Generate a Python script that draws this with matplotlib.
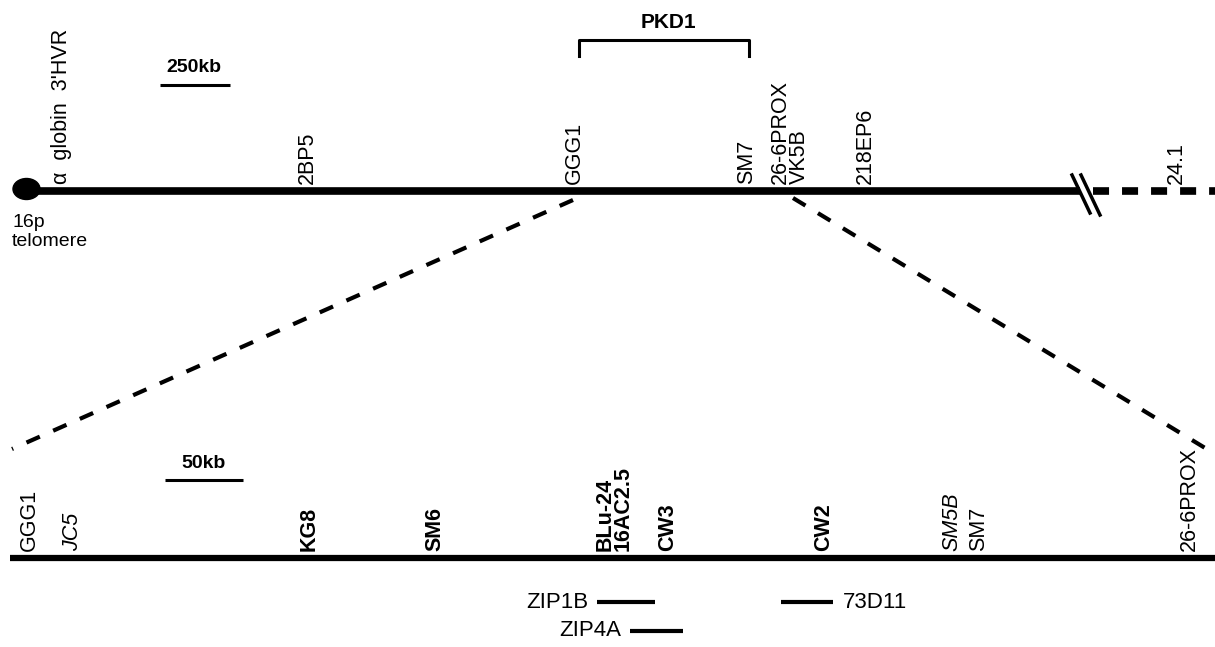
import matplotlib.pyplot as plt
from matplotlib.patches import Ellipse

plt.rcParams['font.family'] = ['Liberation Sans', 'DejaVu Sans']

# top map (250kb scale): marker names and positions along the line
top_names = ["α  globin  3'HVR", "2BP5", "GGG1", "SM7", "26-6PROX", "VK5B", "218EP6", "24.1"]
top_pos = [62, 307, 574, 747, 780, 799, 865, 1176]

# PKD1 interval on the top map
pkd1_span = [579, 749]

# expanded map (50kb scale)
bot_names = ["GGG1", "JC5", "KG8", "SM6", "BLu-24\n16AC2.5", "CW3", "CW2", "SM5B", "SM7", "26-6PROX"]
bot_pos = [29, 73, 309, 435, 614, 668, 824, 952, 979, 1189]
bot_weight = ["normal", "normal", "bold", "bold", "bold", "bold", "bold", "normal", "normal", "normal"]
bot_style = ["normal", "italic", "normal", "normal", "normal", "normal", "normal", "italic", "normal", "normal"]

# clones below the expanded map
clone_names = ["ZIP1B", "ZIP4A", "73D11"]
clone_start = [597, 630, 781]
clone_end = [655, 683, 833]
clone_row = [0, 1, 0]

fig = plt.figure(figsize=(12.15, 6.47), dpi=100)
ax = fig.add_axes([0, 0, 1, 1])
ax.set_xlim(0, 1215)
ax.set_ylim(647, 0)
ax.axis('off')

y_top = 191
y_bot = 558

# top chromosome line with telomere and break
ax.plot([27, 1080], [y_top, y_top], color='black', lw=5.5, solid_capstyle='butt')
ax.add_patch(Ellipse((26.5, 189), 27, 21, color='black'))
ax.plot([1072, 1090], [175, 213], color='black', lw=2.5)
ax.plot([1081, 1100], [175, 215], color='black', lw=2.5)
ax.plot([1093, 1215], [y_top, y_top], color='black', lw=5.5,
        linestyle=(0, (2.1, 1.7)), dash_capstyle='butt')

for name, x in zip(top_names, top_pos):
    ax.text(x, 184, name, rotation=90, ha='center', va='bottom', fontsize=15.5)

ax.text(12, 232, "16p\ntelomere", ha='left', va='center', fontsize=14,
        linespacing=1.15)

# PKD1 bracket
ax.plot([pkd1_span[0], pkd1_span[0], pkd1_span[1], pkd1_span[1]], [56, 40, 40, 56],
        color='black', lw=2.2)
ax.text(sum(pkd1_span) / 2 + 4, 22, "PKD1", ha='center', va='center', fontsize=15,
        fontweight='bold')

# 250kb scale bar
ax.plot([160, 230], [85, 85], color='black', lw=2.2, solid_capstyle='butt')
ax.text(194, 68, "250kb", ha='center', va='center', fontsize=14, fontweight='bold')

# zoom lines from GGG1 .. 26-6PROX to expanded map
ax.plot([573, 12], [200, 449], color='black', lw=3, linestyle=(0, (3.5, 3.5)))
ax.plot([793, 1215], [198, 454], color='black', lw=3, linestyle=(0, (3.5, 3.5)))

# expanded map
ax.plot([10, 1215], [y_bot, y_bot], color='black', lw=4.5, solid_capstyle='butt')
for name, x, w, s in zip(bot_names, bot_pos, bot_weight, bot_style):
    ax.text(x, 551, name, rotation=90, ha='center', va='bottom', fontsize=15.5,
            fontweight=w, fontstyle=s, multialignment='left', linespacing=0.8)

# 50kb scale bar
ax.plot([165, 243], [480, 480], color='black', lw=2.2, solid_capstyle='butt')
ax.text(204, 463, "50kb", ha='center', va='center', fontsize=14, fontweight='bold')

# clones
for name, x0, x1, r in zip(clone_names, clone_start, clone_end, clone_row):
    y = 602 + 29 * r
    ax.plot([x0, x1], [y, y], color='black', lw=3, solid_capstyle='butt')
    if name == "73D11":
        ax.text(x1 + 10, y, name, ha='left', va='center', fontsize=16)
    else:
        ax.text(x0 - 9, y, name, ha='right', va='center', fontsize=16)

fig.savefig('out.png', dpi=100)
